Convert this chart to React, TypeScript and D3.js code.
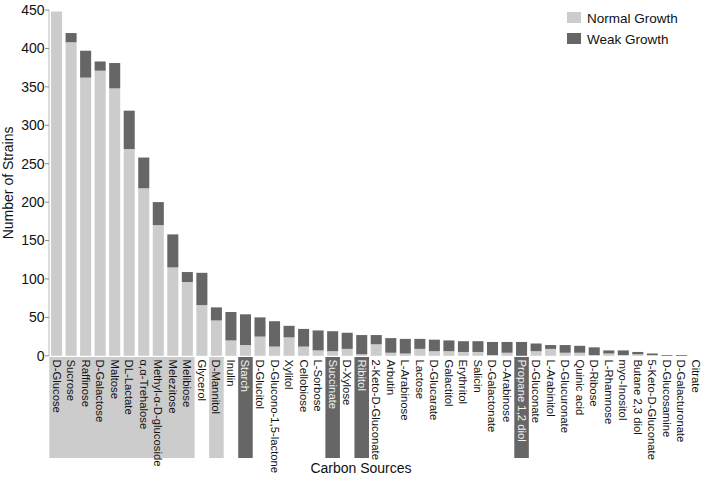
import { useMemo } from "react";
import * as d3 from "d3";

const categories = [
  "D-Glucose", "Sucrose", "Raffinose", "D-Galactose", "Maltose", "DL-Lactate",
  "α,α-Trehalose", "Methyl-α-D-glucoside", "Melezitose", "Melibiose", "Glycerol",
  "D-Mannitol", "Inulin", "Starch", "D-Glucitol", "D-Glucono-1,5-lactone", "Xylitol",
  "Cellobiose", "L-Sorbose", "Succinate", "D-Xylose", "Ribitol", "2-Keto-D-Gluconate",
  "Arbutin", "L-Arabinose", "Lactose", "D-Glucarate", "Galactitol", "Erythritol",
  "Salicin", "D-Galactonate", "D-Arabinose", "Propane 1,2 diol", "D-Gluconate",
  "L-Arabinitol", "D-Glucuronate", "Quinic acid", "D-Ribose", "L-Rhamnose",
  "myo-Inositol", "Butane 2,3 diol", "5-Keto-D-Gluconate", "D-Glucosamine",
  "D-Galacturonate", "Citrate",
];

const normalGrowth = [
  448, 408, 362, 371, 348, 269, 218, 170, 115, 96, 66,
  46, 20, 14, 25, 12, 24,
  12, 7, 6, 9, 2, 15,
  4, 3, 9, 6, 6, 5,
  5, 1, 4, 0, 6,
  9, 4, 4, 1, 3,
  1, 2, 1, 0,
  0, 0,
];

const weakGrowth = [
  0, 12, 35, 12, 33, 50, 40, 30, 43, 13, 42,
  17, 37, 40, 25, 33, 15,
  23, 26, 26, 21, 25, 12,
  19, 19, 13, 15, 14, 14,
  14, 17, 14, 18, 10,
  5, 10, 9, 10, 4,
  6, 3, 2, 1,
  1, 0,
];

// label backgrounds under the axis
const normalLabelGroup = categories.slice(0, 10);
const normalLabels = ["D-Mannitol"];
const weakLabels = ["Starch", "Succinate", "Ribitol", "Propane 1,2 diol"];

const yTicks = [0, 50, 100, 150, 200, 250, 300, 350, 400, 450];

const legendItems = ["Normal Growth", "Weak Growth"];

const LIGHT = "#cccccc";
const DARK = "#666666";
const FONT = "'Liberation Sans', Arial, Helvetica, sans-serif";

const W = 704;
const H = 479;

export default function App() {
  const x = d3.scaleBand<string>().domain(categories).range([49.3, 703.2]);
  const xBar = d3
    .scaleBand<string>()
    .domain(categories)
    .range([49.3, 703.2])
    .paddingInner(0.24)
    .paddingOuter(0.12);
  const y = d3.scaleLinear().domain([0, 450]).range([355.8, 10]);
  const color = d3.scaleOrdinal<string, string>().domain(["normal", "weak"]).range([LIGHT, DARK]);

  const series = useMemo(() => {
    const rows = categories.map((c, i) => ({ cat: c, normal: normalGrowth[i], weak: weakGrowth[i] }));
    return d3.stack<any>().keys(["normal", "weak"])(rows);
  }, []);

  const step = x.step();
  const groupStart = x(normalLabelGroup[0])!;
  const groupEnd = x(normalLabelGroup[normalLabelGroup.length - 1])! + step;
  const labelTop = 357;
  const labelBottom = 458;

  return (
    <svg width={W} height={H} style={{ position: "absolute", left: 0, top: 0, background: "#fff" }} fontFamily={FONT}>
      {/* label background boxes */}
      <rect x={groupStart} y={labelTop} width={groupEnd - groupStart} height={labelBottom - labelTop} fill={LIGHT} />
      {normalLabels.map((c) => (
        <rect key={c} x={x(c)} y={labelTop} width={step} height={labelBottom - labelTop} fill={LIGHT} />
      ))}
      {weakLabels.map((c) => (
        <rect key={c} x={x(c)} y={labelTop} width={step} height={labelBottom - labelTop} fill={DARK} />
      ))}

      {/* bars */}
      {series.map((s) => (
        <g key={s.key} fill={color(s.key)}>
          {s.map((d: any) =>
            d[1] - d[0] > 0 ? (
              <rect
                key={d.data.cat}
                x={xBar(d.data.cat)}
                y={y(d[1])}
                width={xBar.bandwidth()}
                height={y(d[0]) - y(d[1])}
              />
            ) : null
          )}
        </g>
      ))}

      {/* y axis */}
      <line x1={49} x2={49} y1={y(450)} y2={y(0)} stroke="#bbbbbb" strokeWidth={1} />
      {yTicks.map((t) => (
        <g key={t} transform={`translate(0,${y(t)})`}>
          <line x1={45} x2={49} stroke="#888888" />
          <text x={44.5} dy="0.35em" textAnchor="end" fontSize={14} fill="#111">
            {t}
          </text>
        </g>
      ))}
      <text
        transform={`translate(13,${(y(0) + y(450)) / 2}) rotate(-90)`}
        textAnchor="middle"
        fontSize={14}
        fill="#111"
      >
        Number of Strains
      </text>

      {/* category labels */}
      {categories.map((c) => {
        const dark = weakLabels.includes(c);
        return (
          <text
            key={c}
            transform={`translate(${x(c)! + step / 2 - 4},${359.5}) rotate(90)`}
            fontSize={11.3}
            fill={dark ? "#f2f2f2" : "#111"}
          >
            {c}
          </text>
        );
      })}
      <text x={361} y={473} textAnchor="middle" fontSize={14} fill="#111">
        Carbon Sources
      </text>

      {/* legend */}
      {legendItems.map((l, i) => (
        <g key={l} transform={`translate(567,${12 + i * 21})`}>
          <rect width={14} height={11} fill={i === 0 ? LIGHT : DARK} />
          <text x={20} y={10.5} fontSize={13.5} fill="#111">
            {l}
          </text>
        </g>
      ))}
    </svg>
  );
}
